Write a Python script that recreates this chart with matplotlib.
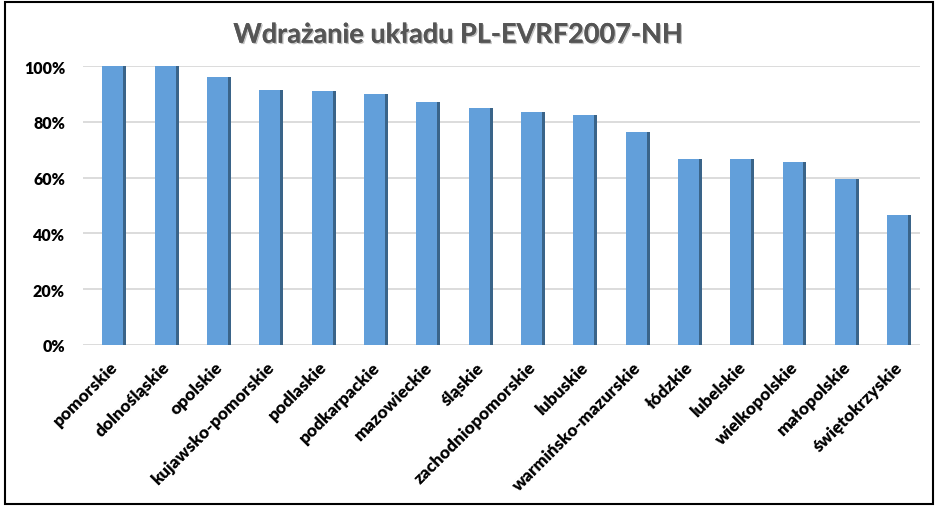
import matplotlib.pyplot as plt
import matplotlib.patheffects as pe
from matplotlib.patches import Rectangle
from matplotlib.ticker import PercentFormatter

wojewodztwa = ['pomorskie', 'dolnośląskie', 'opolskie', 'kujawsko-pomorskie',
               'podlaskie', 'podkarpackie', 'mazowieckie', 'śląskie',
               'zachodniopomorskie', 'lubuskie', 'warmińsko-mazurskie',
               'łódzkie', 'lubelskie', 'wielkopolskie', 'małopolskie',
               'świętokrzyskie']
wdrozenie = [1.00, 1.00, 0.96, 0.913, 0.91, 0.90, 0.87, 0.85,
             0.835, 0.824, 0.762, 0.667, 0.667, 0.657, 0.594, 0.467]

plt.rcParams['font.family'] = ['Lato', 'DejaVu Sans']

fig = plt.figure(figsize=(9.38, 5.10), dpi=100)
ax = fig.add_axes([0.0885, 0.3216, 0.8925, 0.547])

pos = list(range(len(wojewodztwa)))
front_w = 0.40
side_w = 0.057
front_x = [p + 0.07 for p in pos]
ax.bar(front_x, wdrozenie, width=front_w, color='#629FDA', zorder=3)
# ciemny bok słupka (efekt 3D)
side_x = [x + front_w / 2 + side_w / 2 for x in front_x]
ax.bar(side_x, wdrozenie, width=side_w, color='#3A6489', zorder=3)

ax.set_xlim(-0.5, len(wojewodztwa) - 0.5)
ax.set_ylim(0, 1.0)
ax.set_yticks([0, 0.2, 0.4, 0.6, 0.8, 1.0])
ax.yaxis.set_major_formatter(PercentFormatter(1.0, decimals=0))
ax.grid(axis='y', color='#D9D9D9', linewidth=1.3, zorder=0)
for s in ax.spines.values():
    s.set_visible(False)
ax.tick_params(axis='both', length=0)
ax.tick_params(axis='y', pad=13, labelsize=11.5)
for lab in ax.get_yticklabels():
    lab.set_fontweight('heavy')

ax.set_xticks(pos)
ax.set_xticklabels(wojewodztwa, rotation=45, ha='right', va='top',
                   rotation_mode='anchor', fontsize=12.5, fontweight='heavy')
ax.tick_params(axis='x', pad=10)

fig.text(0.488, 0.93, 'Wdrażanie układu PL-EVRF2007-NH', ha='center',
         va='center', fontsize=19.5, fontweight='bold', color='#555555',
         path_effects=[pe.withSimplePatchShadow(offset=(1, -1),
                                                 shadow_rgbFace='#999999',
                                                 alpha=0.6),
                       pe.Normal()])

fig.patches.append(Rectangle((5 / 938, 5 / 510), 928 / 938, 502 / 510,
                             transform=fig.transFigure, fill=False,
                             edgecolor='black', linewidth=1.5))

fig.savefig('out.png', dpi=100)
